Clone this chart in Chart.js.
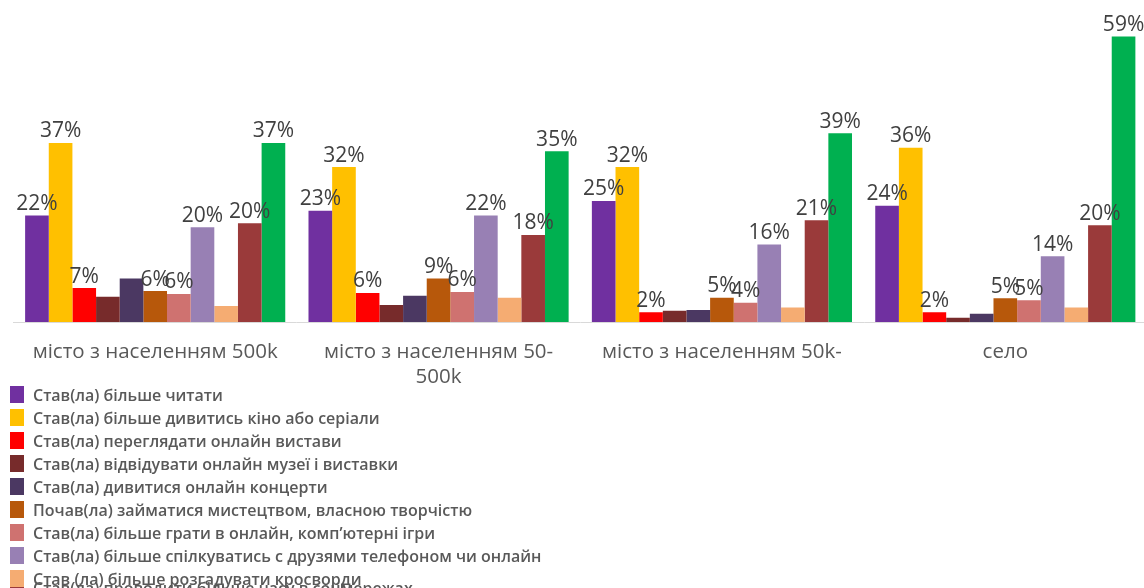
<!DOCTYPE html>
<html><head><meta charset="utf-8">
<script src="https://cdn.jsdelivr.net/npm/chart.js@4"></script>
<style>
html,body{margin:0;padding:0;background:#fff;overflow:hidden;width:1144px;height:588px;}
#wrap{position:absolute;left:0;top:0;width:1147px;height:395px;}
#legend{position:absolute;left:10px;top:383px;font-family:"Open Sans",sans-serif;font-size:16px;font-weight:600;color:#595959;}
.row{display:flex;align-items:center;height:23px;white-space:nowrap;position:relative;}
.row.ov{margin-top:-14px;}
.row .box{position:relative;z-index:1;}
.row.ov .box{z-index:0;}
.box{width:14px;height:17px;margin-right:9px;flex:none;}
</style></head>
<body>
<div id="wrap"><canvas id="c"></canvas></div>
<div id="legend"></div>
<script>
const categories = ['місто з населенням 500k', ['місто з населенням 50-', '500k'], 'місто з населенням 50k-', 'село'];
const seriesNames = [
  'Став(ла) більше читати',
  'Став(ла) більше дивитись кіно або серіали',
  'Став(ла) переглядати онлайн вистави',
  'Став(ла) відвідувати онлайн музеї і виставки',
  'Став(ла) дивитися онлайн концерти',
  'Почав(ла) займатися мистецтвом, власною творчістю',
  'Став(ла) більше грати в онлайн, комп’ютерні ігри',
  'Став(ла) більше спілкуватись с друзями телефоном чи онлайн',
  'Став (ла) більше розгадувати кросворди',
  'Став(ла) проводити більше часу в соцмережах',
  'Став(ла) більше часу проводити з родиною'
];
const readMore      = [22, 23, 25, 24];
const watchMovies   = [37, 32, 32, 36];
const onlineShows   = [7, 6, 2, 2];
const onlineMuseums = [5.2, 3.5, 2.3, 0.9];
const onlineConcerts= [9, 5.4, 2.5, 1.7];
const artCreativity = [6.4, 9, 5, 4.9];
const onlineGames   = [5.8, 6.2, 4, 4.5];
const talkFriends   = [19.6, 22, 16, 13.6];
const crosswords    = [3.3, 5, 3, 3];
const socialMedia   = [20.4, 18, 21, 20];
const familyTime    = [37, 35.3, 39, 59];
const seriesValues = [readMore, watchMovies, onlineShows, onlineMuseums, onlineConcerts, artCreativity, onlineGames, talkFriends, crosswords, socialMedia, familyTime];
const labelledSeries = [true, true, true, false, false, true, true, true, false, true, true];
const colors = ['#7030A0','#FFC000','#FF0000','#772B2B','#4B3862','#B7580B','#CF7270','#9880B4','#F5AC72','#9A3A3A','#00B050'];

const FONT = '"Open Sans", sans-serif';

const datasets = seriesValues.map((vals, i) => ({
  label: seriesNames[i],
  data: vals,
  backgroundColor: colors[i],
  borderWidth: 0,
  barPercentage: 1,
  categoryPercentage: 0.918
}));

const valueLabels = {
  id: 'valueLabels',
  afterDatasetsDraw(chart) {
    const ctx = chart.ctx;
    ctx.save();
    ctx.font = '21px ' + FONT;
    ctx.fillStyle = '#404040';
    ctx.textAlign = 'center';
    ctx.textBaseline = 'bottom';
    chart.data.datasets.forEach((ds, i) => {
      if (!labelledSeries[i]) return;
      chart.getDatasetMeta(i).data.forEach((bar, j) => {
        ctx.fillText(Math.round(ds.data[j]) + '%', bar.x, bar.y - 1);
      });
    });
    ctx.restore();
  }
};

new Chart(document.getElementById('c'), {
  type: 'bar',
  data: { labels: categories, datasets },
  options: {
    responsive: true,
    maintainAspectRatio: false,
    animation: false,
    layout: { padding: { left: 13.5, right: 0, top: 31.6, bottom: 3 } },
    plugins: { legend: { display: false }, tooltip: { enabled: false } },
    scales: {
      x: {
        grid: { display: false, drawTicks: false },
        border: { display: true, color: '#D9D9D9', width: 1 },
        ticks: { color: '#595959', font: { family: FONT, size: 20.5 }, padding: 18, maxRotation: 0, autoSkip: false },
        afterFit: s => { s.height = 70; }
      },
      y: { display: false, min: 0, max: 60 }
    }
  },
  plugins: [valueLabels]
});

const legend = document.getElementById('legend');
seriesNames.forEach((name, i) => {
  const row = document.createElement('div');
  row.className = 'row' + (i === 9 ? ' ov' : '');
  const box = document.createElement('span');
  box.className = 'box';
  box.style.background = colors[i];
  const t = document.createElement('span');
  t.textContent = name;
  row.appendChild(box); row.appendChild(t);
  legend.appendChild(row);
});
</script>
</body></html>
